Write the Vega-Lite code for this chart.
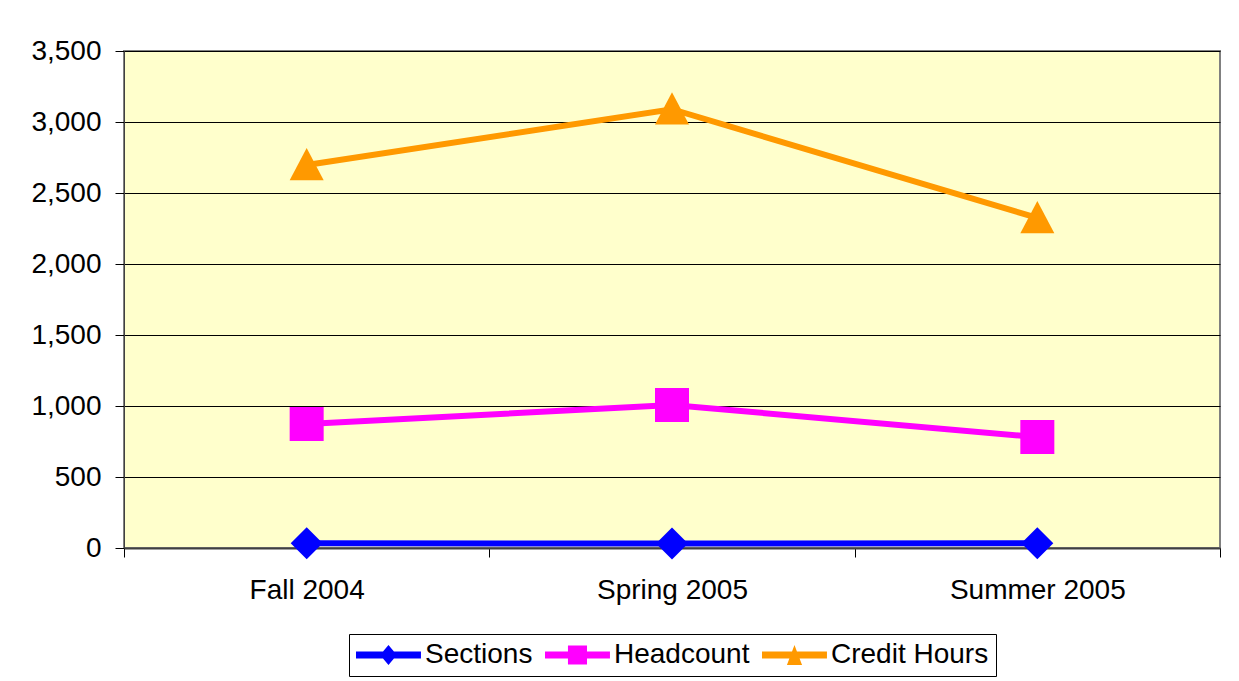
{
  "$schema": "https://vega.github.io/schema/vega-lite/v6.json",
  "width": 1096,
  "height": 497,
  "autosize": "none",
  "padding": {"left": 124, "top": 51, "right": 19, "bottom": 133},
  "background": "white",
  "config": {
    "view": {"fill": "#FFFFCC", "stroke": "#808080", "strokeWidth": 2},
    "font": "Liberation Sans",
    "legend": {"layout": {"bottom": {"anchor": "middle"}}}
  },
  "data": {
    "values": [
      {"term": "Fall 2004", "series": "Sections", "value": 33},
      {"term": "Spring 2005", "series": "Sections", "value": 31},
      {"term": "Summer 2005", "series": "Sections", "value": 33},
      {"term": "Fall 2004", "series": "Headcount", "value": 873},
      {"term": "Spring 2005", "series": "Headcount", "value": 1007},
      {"term": "Summer 2005", "series": "Headcount", "value": 781},
      {"term": "Fall 2004", "series": "Credit Hours", "value": 2697},
      {"term": "Spring 2005", "series": "Credit Hours", "value": 3090},
      {"term": "Summer 2005", "series": "Credit Hours", "value": 2324}
    ]
  },
  "encoding": {
    "x": {
      "field": "term",
      "type": "nominal",
      "sort": ["Fall 2004", "Spring 2005", "Summer 2005"],
      "scale": {"paddingInner": 0, "paddingOuter": 0},
      "axis": {
        "title": null,
        "labelAngle": 0,
        "tickBand": "extent",
        "labelFontSize": 28,
        "labelColor": "black",
        "tickColor": "black",
        "tickSize": 9,
        "domainColor": "#404040",
        "domainWidth": 2,
        "labelPadding": 19,
        "grid": false
      }
    },
    "y": {
      "field": "value",
      "type": "quantitative",
      "scale": {"domain": [0, 3500]},
      "axis": {
        "title": null,
        "values": [0, 500, 1000, 1500, 2000, 2500, 3000, 3500],
        "format": ",.0f",
        "labelFontSize": 28,
        "labelColor": "black",
        "tickColor": "black",
        "tickSize": 9,
        "labelPadding": 14,
        "domainColor": "#404040",
        "gridColor": "black",
        "gridOpacity": 1,
        "gridWidth": 1
      }
    }
  },
  "layer": [
    {
      "mark": {"type": "line", "strokeWidth": 6},
      "encoding": {
        "stroke": {
          "field": "series",
          "type": "nominal",
          "scale": {
            "domain": ["Sections", "Headcount", "Credit Hours"],
            "range": ["#0000FF", "#FF00FF", "#FF9900"]
          },
          "legend": {
            "orient": "bottom",
            "direction": "horizontal",
            "title": null,
            "labelFontSize": 28,
            "labelColor": "black",
            "strokeColor": "black",
            "padding": 7,
            "offset": 30,
            "symbolSize": 784,
            "symbolStrokeWidth": 0,
            "labelOffset": 41,
            "columnPadding": 12
          }
        }
      }
    },
    {
      "transform": [{"filter": "datum.series === 'Sections'"}],
      "mark": {"type": "point", "filled": true, "opacity": 1, "shape": "diamond", "size": 1024, "color": "#0000FF"}
    },
    {
      "transform": [{"filter": "datum.series === 'Headcount'"}],
      "mark": {"type": "point", "filled": true, "opacity": 1, "shape": "square", "size": 1156, "color": "#FF00FF"}
    },
    {
      "transform": [{"filter": "datum.series === 'Credit Hours'"}],
      "mark": {"type": "point", "filled": true, "opacity": 1, "shape": "M0,-1L-1,0.9L1,0.9Z", "size": 1156, "color": "#FF9900"}
    },
    {
      "transform": [{"filter": "datum.value < 0"}],
      "mark": {"type": "point", "filled": true, "opacity": 1},
      "encoding": {
        "fill": {
          "field": "series",
          "type": "nominal",
          "scale": {
            "domain": ["Sections", "Headcount", "Credit Hours"],
            "range": ["#0000FF", "#FF00FF", "#FF9900"]
          },
          "legend": null
        },
        "shape": {
          "field": "series",
          "type": "nominal",
          "scale": {
            "domain": ["Sections", "Headcount", "Credit Hours"],
            "range": [
              "M-1,-0.25H3.64V0.25H-1Z M0.72,0L1.32,-0.71L1.92,0L1.32,0.71Z",
              "M-1,-0.25H3.64V0.25H-1Z M0.64,-0.68H2V0.68H0.64Z",
              "M-1,-0.25H3.64V0.25H-1Z M1.32,-0.71L1.86,0.71H0.78Z"
            ]
          },
          "legend": null
        }
      }
    }
  ]
}
